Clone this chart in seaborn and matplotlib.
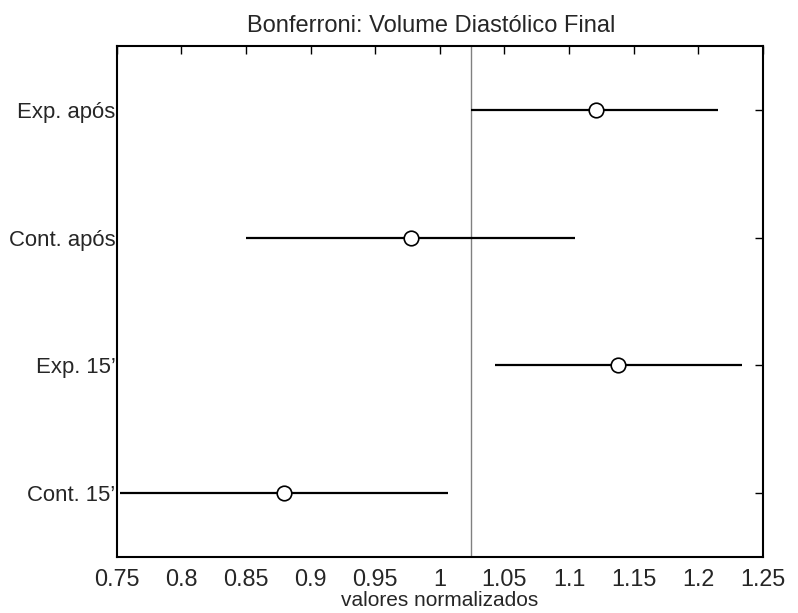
import matplotlib
matplotlib.use("Agg")
import matplotlib.pyplot as plt
import seaborn as sns
import pandas as pd

# Bonferroni multiple-comparison intervals (normalized values)
groups = ["Cont. 15’", "Exp. 15’", "Cont. após", "Exp. após"]
centers = [0.8794, 1.1376, 0.9776, 1.1206]
lower = [0.7524, 1.0425, 0.8498, 1.0242]
upper = [1.0064, 1.2338, 1.1044, 1.2155]
reference_line = 1.0242
x_ticks = [0.75, 0.8, 0.85, 0.9, 0.95, 1.0, 1.05, 1.1, 1.15, 1.2, 1.25]
x_tick_labels = ["0.75", "0.8", "0.85", "0.9", "0.95", "1", "1.05", "1.1", "1.15", "1.2", "1.25"]

df = pd.DataFrame({
    "grupo": groups,
    "pos": range(1, len(groups) + 1),
    "media": centers,
    "inf": lower,
    "sup": upper,
})

sns.set_style("white")
plt.rcParams["font.family"] = ["Liberation Sans", "DejaVu Sans"]

fig = plt.figure(figsize=(7.98, 6.13), dpi=100)
ax = fig.add_axes([0.1462, 0.0914, 0.8100, 0.8336])

# interval lines
ax.hlines(df["pos"], df["inf"], df["sup"], color="black", linewidth=1.6, zorder=2)
# group estimates
sns.scatterplot(data=df, x="media", y="pos", ax=ax, marker="o", s=110,
                facecolor="white", edgecolor="black", linewidth=1.2, zorder=3,
                legend=False)
# reference line
ax.axvline(reference_line, color="#808080", linewidth=1.0, zorder=1)

ax.set_xlim(0.75, 1.25)
ax.set_ylim(0.5, len(groups) + 0.5)
ax.set_xticks(x_ticks)
ax.set_xticklabels(x_tick_labels)
ax.set_yticks(df["pos"])
ax.set_yticklabels(groups)

ax.tick_params(axis="both", direction="in", length=6, width=1.0, color="black",
               top=True, right=True)
ax.tick_params(axis="x", pad=8, labelsize=16.8)
ax.tick_params(axis="y", pad=1, labelsize=15.9)
for side in ax.spines.values():
    side.set_visible(True)
    side.set_color("black")
    side.set_linewidth(1.5)

ax.set_xlabel("valores normalizados", fontsize=15, labelpad=0)
ax.set_ylabel("")
ax.set_title("Bonferroni: Volume Diastólico Final", fontsize=17, x=0.486, pad=10)

fig.savefig("out.png", dpi=100)
